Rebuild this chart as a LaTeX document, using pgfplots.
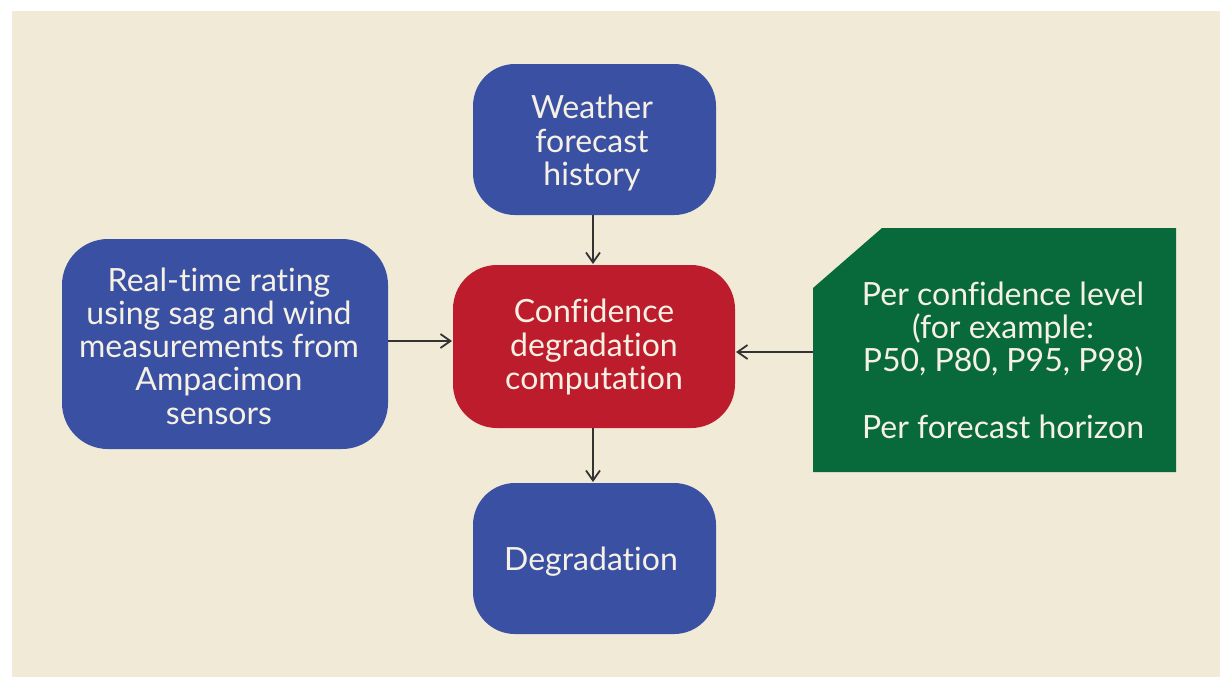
\documentclass[border=0pt]{standalone}
\usepackage{pgfplots}
\pgfplotsset{compat=1.18}
\usetikzlibrary{arrows.meta}
\usepackage{fontspec}
\setmainfont{Lato}[Ligatures=NoCommon]
\definecolor{bg}{HTML}{F1EAD7}
\definecolor{bbox}{HTML}{3A51A3}
\definecolor{rbox}{HTML}{BD1C2C}
\definecolor{gbox}{HTML}{086A3A}
\definecolor{txt}{HTML}{F6F1E4}
\definecolor{arr}{HTML}{333333}
\begin{document}
\begin{tikzpicture}
\begin{axis}[scale only axis, width=610pt, height=338.5pt,
  xmin=0, xmax=1220, ymin=0, ymax=677, y dir=reverse,
  hide axis, clip=false]
% background
\addplot[draw=none, fill=white] coordinates {(0,0) (1220,0) (1220,677) (0,677)} -- cycle;
\addplot[draw=none, fill=bg] coordinates {(12,11) (1220,11) (1220,677) (12,677)} -- cycle;
% boxes
\addplot[draw=none, fill=bbox, rounded corners=21pt] coordinates {(594,64) (716,64) (716,215) (473,215) (473,64)} -- cycle;
\addplot[draw=none, fill=rbox, rounded corners=22pt] coordinates {(594,265) (735,265) (735,428) (453,428) (453,265)} -- cycle;
\addplot[draw=none, fill=bbox, rounded corners=23pt] coordinates {(225,239) (388,239) (388,449) (62,449) (62,239)} -- cycle;
\addplot[draw=none, fill=bbox, rounded corners=21pt] coordinates {(594,483) (716,483) (716,634) (473,634) (473,483)} -- cycle;
\addplot[draw=none, fill=gbox] coordinates {(882,228) (1176,228) (1176,472) (813,472) (813,288)} -- cycle;
% arrows
\addplot[arr, line width=0.9pt, -{Straight Barb[length=5pt,width=7pt]}] coordinates {(593,215) (593,264)};
\addplot[arr, line width=0.9pt, -{Straight Barb[length=5pt,width=7pt]}] coordinates {(388,341) (452,341)};
\addplot[arr, line width=0.9pt, -{Straight Barb[length=5pt,width=7pt]}] coordinates {(813,352) (736,352)};
\addplot[arr, line width=0.9pt, -{Straight Barb[length=5pt,width=7pt]}] coordinates {(593,428) (593,482)};
% texts
\tikzset{lbl/.style={text=txt, align=center, inner sep=0pt, font=\fontsize{16}{16.6}\selectfont}}
\node[lbl] at (axis cs:592,143) {Weather\\forecast\\history};
\node[lbl] at (axis cs:594,347) {Confidence\\degradation\\computation};
\node[lbl] at (axis cs:219,346) {Real-time rating\\using sag and wind\\measurements from\\Ampacimon\\sensors};
\node[lbl] at (axis cs:591,562) {Degradation};
\node[lbl] at (axis cs:1003,360) {Per confidence level\\(for example:\\P50, P80, P95, P98)\\[16.6pt]Per forecast horizon};
\end{axis}
\end{tikzpicture}
\end{document}
